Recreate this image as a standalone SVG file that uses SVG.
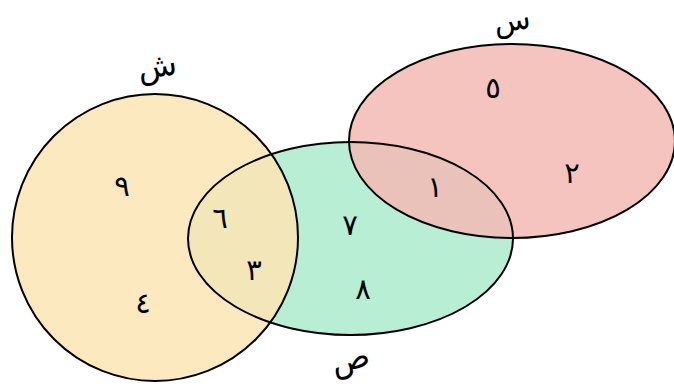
<svg xmlns="http://www.w3.org/2000/svg" width="674" height="390" viewBox="0 0 674 390">
<style>
.fill{stroke:none;fill-opacity:0.85}
.edge{fill:none;stroke:#000;stroke-width:2}
.t{font-family:"DejaVu Sans","Noto Sans",sans-serif;font-size:29px;fill:#000;text-anchor:middle;dominant-baseline:central}
.lab{font-size:32px}
.lab2{font-size:30px}
</style>
<rect width="674" height="390" fill="#fff"/>
<g id="fills">
<ellipse class="fill" cx="350.5" cy="238.5" rx="162.5" ry="96.5" fill="#abebcb"/>
<ellipse class="fill" cx="512" cy="141" rx="163" ry="97" fill="#f3bab4"/>
<ellipse class="fill" cx="155" cy="237.5" rx="143" ry="143.5" fill="#fde5b4"/>
</g>
<g id="set-sh">
<ellipse class="edge" cx="155" cy="237.5" rx="143" ry="143.5"/>
<text class="t lab" x="157" y="66" transform="rotate(-8 157 66)">ش</text>
<text class="t" x="122" y="186">٩</text>
<text class="t" x="143" y="303">٤</text>
</g>
<g id="set-sad">
<ellipse class="edge" cx="350.5" cy="238.5" rx="162.5" ry="96.5"/>
<text class="t lab" x="350" y="359" transform="rotate(-14 350 359)">ص</text>
<text class="t" x="350" y="225">٧</text>
<text class="t" x="363" y="289">٨</text>
<text class="t" x="220" y="218">٦</text>
<text class="t" x="254" y="270">٣</text>
</g>
<g id="set-sin">
<ellipse class="edge" cx="512" cy="141" rx="163" ry="97"/>
<text class="t lab2" x="512" y="20" transform="rotate(-8 512 20)">س</text>
<text class="t" x="493" y="88">٥</text>
<text class="t" x="572" y="173">٢</text>
<text class="t" x="435" y="187">١</text>
</g>
<g id="connectors"></g>
</svg>
